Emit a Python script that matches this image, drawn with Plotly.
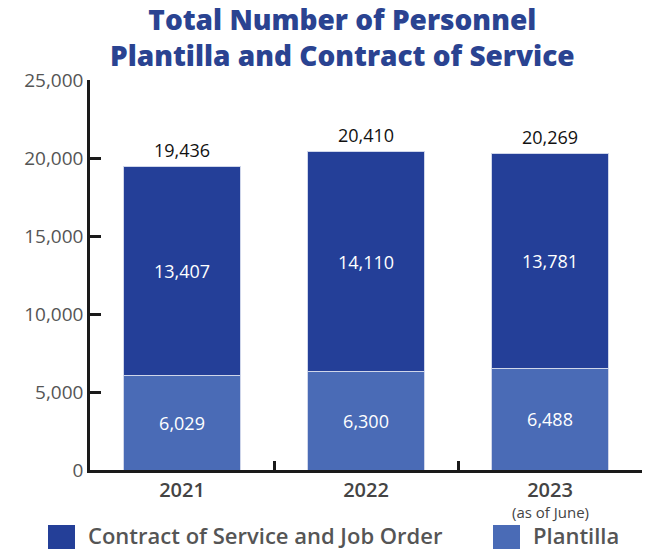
import plotly.graph_objects as go

years = ["2021", "2022", "2023"]
year_note = "(as of June)"
plantilla = [6029, 6300, 6488]
contract = [13407, 14110, 13781]
totals = [p + c for p, c in zip(plantilla, contract)]
y_ticks = [0, 5000, 10000, 15000, 20000, 25000]

DARK = "#243f98"
LIGHT = "#4a6bb6"
EDGE = "#cfd6ea"
AXIS = "#1a1a1a"
FONT = "Open Sans"

# plot area geometry in pixels (used to place paper-referenced decorations)
L, R, T, B = 90, 3, 80, 80
W, H = 645, 550
PW, PH = W - L - R, H - T - B


def px_x(px):
    return (px - L) / PW


def px_y(py):
    return (H - B - py) / PH


fig = go.Figure()
fig.add_trace(go.Bar(
    x=years, y=plantilla, name="Plantilla",
    marker=dict(color=LIGHT, line=dict(color=EDGE, width=1)),
    text=[f"{v:,}" for v in plantilla], textposition="inside",
    insidetextanchor="middle", textangle=0,
    textfont=dict(color="white", size=18, family=FONT),
    showlegend=False,
))
fig.add_trace(go.Bar(
    x=years, y=contract, name="Contract of Service and Job Order",
    marker=dict(color=DARK, line=dict(color=EDGE, width=1)),
    text=[f"{v:,}" for v in contract], textposition="inside",
    insidetextanchor="middle", textangle=0,
    textfont=dict(color="white", size=18, family=FONT),
    showlegend=False,
))

# totals above each stack
for i, tot in enumerate(totals):
    fig.add_annotation(xref="x", yref="y", x=i, y=tot, yanchor="bottom",
                       yshift=3, showarrow=False, text=f"{tot:,}",
                       font=dict(color="#111111", size=18, family=FONT))

# note under the last category label (last category centre: 5/6 of plot width)
fig.add_annotation(xref="paper", yref="paper", x=(len(years) - 0.5) / len(years),
                   y=px_y(512), xanchor="center", yanchor="middle", showarrow=False,
                   text=year_note, font=dict(size=15, color="#444444", family=FONT))

# legend: swatches + labels below the plot
legend_items = [("Contract of Service and Job Order", DARK, 48), ("Plantilla", LIGHT, 493)]
for label, color, px in legend_items:
    fig.add_shape(type="rect", xref="paper", yref="paper",
                  x0=px_x(px), x1=px_x(px + 27),
                  y0=px_y(549), y1=px_y(525),
                  fillcolor=color, line=dict(width=0))
    fig.add_annotation(xref="paper", yref="paper",
                       x=px_x(px + 38), y=px_y(535),
                       xanchor="left", yanchor="middle", showarrow=False,
                       text=label,
                       font=dict(size=22, color="#555555", family=FONT, weight=600))

fig.add_annotation(xref="paper", yref="paper", x=px_x(342), y=px_y(37),
                   xanchor="center", yanchor="middle", showarrow=False,
                   text="Total Number of Personnel<br>Plantilla and Contract of Service",
                   font=dict(size=28, color="#2a4391", family=FONT, weight=800))

fig.update_layout(
    barmode="stack",
    bargap=0.36,
    width=W, height=H,
    margin=dict(l=L, r=R, t=T, b=B),
    plot_bgcolor="white", paper_bgcolor="white",
    font=dict(family=FONT),
    xaxis=dict(
        type="category", range=[-0.5, len(years) - 0.5],
        categoryorder="array", categoryarray=years,
        showline=True, linecolor=AXIS, linewidth=2.5,
        ticks="inside", ticklen=9, tickwidth=2.5, tickcolor=AXIS,
        tickson="boundaries", showgrid=False, zeroline=False,
        tickfont=dict(size=20, color="#444444", family=FONT, weight=600),
    ),
    yaxis=dict(
        range=[0, 25000], tickvals=y_ticks,
        tickformat=",", showline=True, linecolor=AXIS, linewidth=2.5,
        ticks="inside", ticklen=11, tickwidth=2.5, tickcolor=AXIS,
        showgrid=False, zeroline=False,
        tickfont=dict(size=19, color="#555555", family=FONT),
    ),
)

fig.write_html("out.html")
